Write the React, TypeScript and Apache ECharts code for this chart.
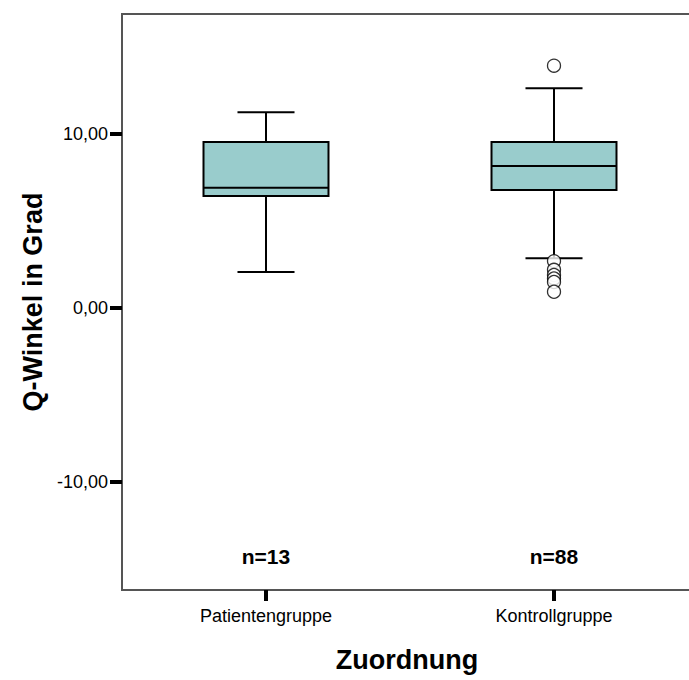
import React, { useEffect, useRef } from "react";
import * as echarts from "echarts";

const categories = ["Patientengruppe", "Kontrollgruppe"];
const counts = ["n=13", "n=88"];
// [low whisker, Q1, median, Q3, high whisker]
const boxStats = [
  [2.07, 6.44, 6.91, 9.54, 11.26],
  [2.87, 6.78, 8.16, 9.54, 12.64],
];
// outliers: [categoryIndex, value]
const outliers = [
  [1, 13.93],
  [1, 2.7],
  [1, 2.2],
  [1, 1.9],
  [1, 1.7],
  [1, 1.5],
  [1, 0.94],
];
const yTicks = [-10, 0, 10];
const yMin = -16.2;
const yMax = 16.9;
const countLabelValue = -14.3;

export default function App() {
  const ref = useRef<HTMLDivElement>(null);
  useEffect(() => {
    if (!ref.current) return;
    const chart = echarts.init(ref.current, null, { renderer: "svg" });
    const font = "'Liberation Sans', Arial, sans-serif";
    const boxData = boxStats.map((s, i) => [i, ...s]);
    chart.setOption({
      animation: false,
      backgroundColor: "#fff",
      grid: {
        left: 122,
        top: 14,
        width: 576,
        height: 576,
        show: true,
        borderColor: "#555",
        borderWidth: 2,
        backgroundColor: "transparent",
      },
      xAxis: {
        type: "category",
        data: categories,
        boundaryGap: true,
        axisLine: { show: false, onZero: false },
        axisTick: {
          show: true,
          alignWithLabel: true,
          length: 11,
          lineStyle: { color: "#000", width: 4 },
        },
        axisLabel: {
          margin: 17,
          fontSize: 18,
          color: "#000",
          fontFamily: font,
        },
        splitLine: { show: false },
      },
      yAxis: {
        type: "value",
        min: yMin,
        max: yMax,
        axisLine: { show: false, onZero: false },
        splitLine: { show: false },
        axisTick: {
          show: true,
          length: 12,
          customValues: yTicks,
          lineStyle: { color: "#000", width: 4 },
        },
        axisLabel: {
          customValues: yTicks,
          margin: 14,
          fontSize: 18,
          color: "#000",
          fontFamily: font,
          formatter: (v: number) => v.toFixed(2).replace(".", ","),
        },
      },
      graphic: [
        {
          type: "text",
          x: 33,
          y: 302,
          rotation: Math.PI / 2,
          style: {
            text: "Q-Winkel in Grad",
            font: `bold 27px ${font}`,
            fill: "#000",
            align: "center",
            verticalAlign: "middle",
          },
        },
        {
          type: "text",
          x: 407,
          y: 660,
          style: {
            text: "Zuordnung",
            font: `bold 27px ${font}`,
            fill: "#000",
            align: "center",
            verticalAlign: "middle",
          },
        },
      ],
      series: [
        {
          type: "custom",
          data: boxData,
          encode: { x: 0, y: [1, 2, 3, 4, 5] },
          z: 2,
          renderItem: (params: any, api: any) => {
            const ci = api.value(0);
            const lo = api.coord([ci, api.value(1)]);
            const q1 = api.coord([ci, api.value(2)]);
            const med = api.coord([ci, api.value(3)]);
            const q3 = api.coord([ci, api.value(4)]);
            const hi = api.coord([ci, api.value(5)]);
            const band = api.size([1, 0])[0];
            const bw = band * 0.434;
            const cw = band * 0.198;
            const cx = lo[0];
            const ls = { stroke: "#000", lineWidth: 2 };
            return {
              type: "group",
              children: [
                { type: "line", shape: { x1: cx, y1: hi[1], x2: cx, y2: q3[1] }, style: ls },
                { type: "line", shape: { x1: cx, y1: q1[1], x2: cx, y2: lo[1] }, style: ls },
                { type: "line", shape: { x1: cx - cw / 2, y1: hi[1], x2: cx + cw / 2, y2: hi[1] }, style: ls },
                { type: "line", shape: { x1: cx - cw / 2, y1: lo[1], x2: cx + cw / 2, y2: lo[1] }, style: ls },
                {
                  type: "rect",
                  shape: { x: cx - bw / 2, y: q3[1], width: bw, height: q1[1] - q3[1] },
                  style: { fill: "#99CCCC", stroke: "#000", lineWidth: 2 },
                },
                { type: "line", shape: { x1: cx - bw / 2, y1: med[1], x2: cx + bw / 2, y2: med[1] }, style: ls },
                {
                  type: "text",
                  x: cx,
                  y: api.coord([ci, countLabelValue])[1],
                  style: {
                    text: counts[ci],
                    font: `bold 21px ${font}`,
                    fill: "#000",
                    align: "center",
                    verticalAlign: "middle",
                  },
                },
              ],
            };
          },
        },
        {
          type: "scatter",
          data: outliers,
          symbol: "circle",
          symbolSize: 13,
          z: 3,
          itemStyle: { color: "#fff", borderColor: "#000", borderWidth: 1.3 },
        },
      ],
    });
    return () => chart.dispose();
  }, []);
  return (
    <div
      style={{
        position: "fixed",
        left: 0,
        top: 0,
        width: 689,
        height: 680,
        overflow: "hidden",
        background: "#fff",
      }}
    >
      <div ref={ref} style={{ width: 702, height: 680 }} />
    </div>
  );
}
